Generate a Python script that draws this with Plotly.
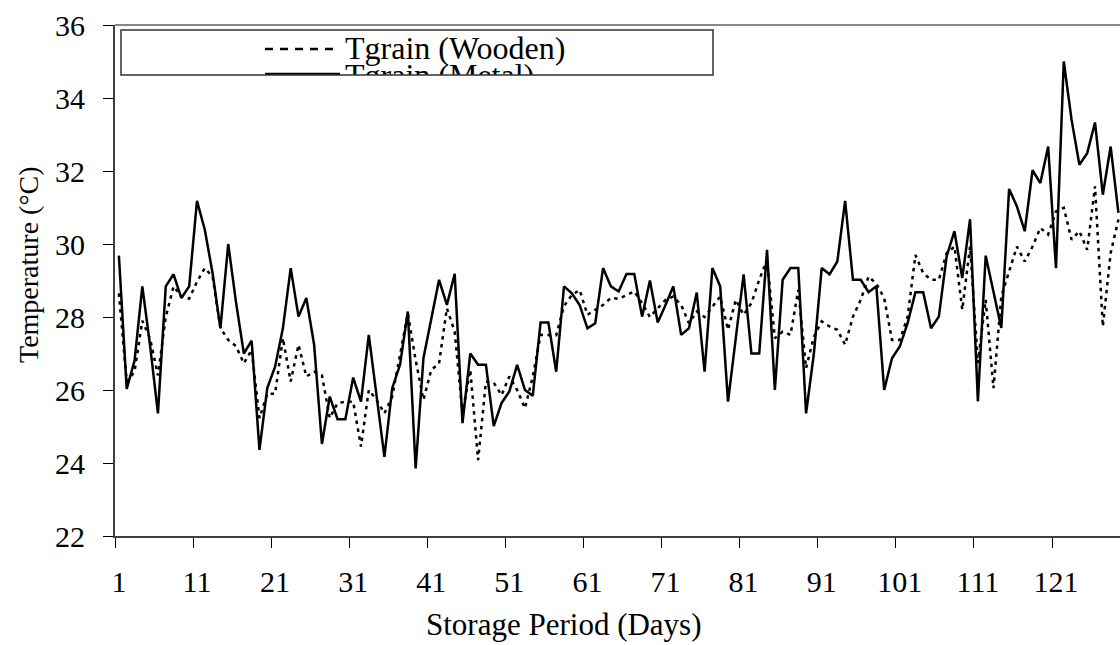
import plotly.graph_objects as go

# ---------------- data ----------------
days = list(range(1, 130))

tgrain_wooden = [
    28.65, 26.23, 26.5, 27.9, 27.4, 26.4, 28.0, 28.84, 28.56, 28.5,
    28.97, 29.34, 29.1, 27.7, 27.37, 27.2, 26.73, 27.1, 25.23, 25.9,
    25.9, 27.42, 26.23, 27.24, 26.37, 26.5, 26.4, 25.23, 25.64, 25.68,
    25.68, 24.45, 26.0, 25.73, 25.36, 25.82, 26.96, 28.1, 26.82, 25.73,
    26.55, 26.73, 28.24, 27.6, 25.36, 26.55, 24.08, 26.23, 26.2, 25.86,
    26.37, 26.0, 25.5, 26.37, 27.51, 27.5, 27.5, 28.3, 28.6, 28.74,
    28.06, 28.2, 28.33, 28.52, 28.5, 28.6, 28.7, 28.38, 28.0, 28.24,
    28.47, 28.56, 28.33, 27.83, 28.15, 28.0, 28.29, 28.56, 27.65, 28.47,
    28.06, 28.38, 29.02, 29.57, 27.42, 27.6, 27.51, 28.74, 26.6, 27.46,
    27.88, 27.74, 27.65, 27.24, 28.01, 28.47, 29.11, 28.91, 28.52, 27.37,
    27.37, 28.0, 29.7, 29.2, 29.02, 29.02, 29.75, 29.93, 28.2, 29.93,
    26.74, 28.47, 26.05, 28.56, 29.25, 29.93, 29.52, 29.93, 30.44, 30.26,
    30.89, 30.99, 30.12, 30.35, 29.84, 31.58, 27.74, 29.75, 30.67,
]

tgrain_metal = [
    29.68, 26.03, 26.8, 28.84, 27.2, 25.36, 28.84, 29.17, 28.52, 28.84,
    31.18, 30.39, 29.2, 27.69, 30.0, 28.4, 27.0, 27.35, 24.36, 26.05,
    26.64, 27.69, 29.34, 28.01, 28.52, 27.24, 24.52, 25.82, 25.2, 25.2,
    26.34, 25.68, 27.51, 25.9, 24.17, 26.05, 26.69, 28.15, 23.85, 26.87,
    27.92, 29.02, 28.33, 29.18, 25.09, 27.0, 26.69, 26.69, 25.01, 25.64,
    25.96, 26.69, 26.0, 25.84, 27.85, 27.85, 26.5, 28.84, 28.65, 28.33,
    27.69, 27.83, 29.34, 28.84, 28.7, 29.18, 29.18, 28.01, 29.0, 27.85,
    28.33, 28.84, 27.51, 27.69, 28.67, 26.5, 29.34, 28.84, 25.68, 27.5,
    29.17, 27.0, 27.0, 29.84, 26.0, 29.02, 29.34, 29.34, 25.36, 27.0,
    29.34, 29.17, 29.52, 31.18, 29.02, 29.02, 28.68, 28.84, 26.0, 26.87,
    27.19, 27.83, 28.68, 28.68, 27.69, 28.01, 29.66, 30.35, 29.07, 30.68,
    25.69, 29.68, 28.7, 27.7, 31.51, 31.03, 30.35, 32.02, 31.67, 32.67,
    29.34, 35.0, 33.4, 32.17, 32.49, 33.33, 31.35, 32.67, 30.85,
]

series_names = ["Tgrain (Wooden)", "Tgrain (Metal)"]
x_tick_vals = [1, 11, 21, 31, 41, 51, 61, 71, 81, 91, 101, 111, 121]
x_tick_labels = ["1", "11", "21", "31", "41", "51", "61", "71", "81", "91", "101", "111", "121"]
y_tick_vals = [22, 24, 26, 28, 30, 32, 34, 36]
x_title = "Storage Period (Days)"
y_title = "Temperature (°C)"

# ---------------- layout geometry ----------------
FONT = "Liberation Serif, Times New Roman, serif"
W, H = 1120, 645
ML, MR, MT, MB = 115, 0, 25, 109


def px_x(px):
    return (px - ML) / (W - ML - MR)


def px_y(py):
    return (H - MB - py) / (H - MT - MB)


# legend box (pixels)
LX0, LX1, LY0, LY1 = 121, 713, 30, 75

fig = go.Figure()

fig.add_trace(go.Scatter(
    x=days, y=tgrain_wooden, mode="lines", name=series_names[0],
    line=dict(color="black", width=2.5, dash="3.5px,4.5px"),
    showlegend=False,
))
fig.add_trace(go.Scatter(
    x=days, y=tgrain_metal, mode="lines", name=series_names[1],
    line=dict(color="black", width=2.5),
    showlegend=False,
))

# legend texts drawn in a small clipped sub-plot (the box cuts the 2nd entry)
fig.add_trace(go.Scatter(
    x=[345, 345], y=[51, 77.5], mode="text", text=series_names,
    textposition="middle right",
    textfont=dict(family=FONT, size=32, color="black"),
    xaxis="x2", yaxis="y2", hoverinfo="skip", showlegend=False,
    cliponaxis=True,
))

shapes = [
    # legend samples
    dict(type="line", xref="x2", yref="y2", x0=265, x1=340, y0=49, y1=49,
         line=dict(color="black", width=2.5, dash="8px,7px")),
    dict(type="line", xref="x2", yref="y2", x0=265, x1=340, y0=74, y1=74,
         line=dict(color="black", width=2.5)),
    # legend box
    dict(type="rect", xref="paper", yref="paper",
         x0=px_x(LX0), x1=px_x(LX1), y0=px_y(LY1), y1=px_y(LY0),
         line=dict(color="#333333", width=1.5), fillcolor="rgba(0,0,0,0)"),
    # plot-area top border
    dict(type="line", xref="paper", yref="paper", x0=0, x1=1, y0=1, y1=1,
         line=dict(color="#888888", width=2)),
]

annotations = [
    dict(text=x_title, xref="paper", yref="paper", x=px_x(564), y=px_y(624),
         xanchor="center", yanchor="middle", showarrow=False,
         font=dict(family=FONT, size=31, color="black")),
    dict(text=y_title, xref="paper", yref="paper", x=px_x(28), y=px_y(265),
         xanchor="center", yanchor="middle", showarrow=False, textangle=-90,
         font=dict(family=FONT, size=28, color="black")),
]

fig.update_layout(
    width=W, height=H,
    margin=dict(l=ML, r=MR, t=MT, b=MB, pad=0),
    paper_bgcolor="white", plot_bgcolor="white",
    font=dict(family=FONT, color="black"),
    showlegend=False,
    xaxis=dict(
        range=[0.5, 129.2], showgrid=False, zeroline=False,
        showline=True, linecolor="#404040", linewidth=2,
        tickmode="array", tickvals=x_tick_vals, ticktext=x_tick_labels,
        ticks="", tickfont=dict(family=FONT, size=30, color="black"),
        ticklabelstandoff=18,
        minor=dict(tickmode="array", tickvals=[v - 0.5 for v in x_tick_vals],
                   ticks="outside", ticklen=10, tickwidth=1, tickcolor="black",
                   showgrid=False),
    ),
    yaxis=dict(
        range=[22, 36], showgrid=False, zeroline=False,
        showline=True, linecolor="#404040", linewidth=2,
        tickmode="array", tickvals=y_tick_vals,
        ticks="outside", ticklen=10, tickwidth=1, tickcolor="black",
        tickfont=dict(family=FONT, size=30, color="black"),
        ticklabelstandoff=12,
    ),
    xaxis2=dict(domain=[px_x(LX0), px_x(LX1)], range=[LX0, LX1], anchor="y2",
                visible=False, fixedrange=True),
    yaxis2=dict(domain=[px_y(LY1), px_y(LY0)], range=[LY1, LY0], anchor="x2",
                visible=False, fixedrange=True),
    shapes=shapes,
    annotations=annotations,
)

fig.write_html(
    "out.html",
    config={"displayModeBar": False},
    post_script="document.body.style.margin='0';document.body.style.overflow='hidden';",
)
